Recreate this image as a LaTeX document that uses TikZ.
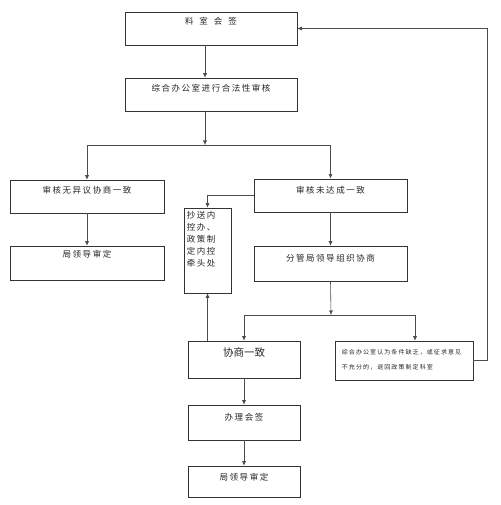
\documentclass[tikz,border=0pt]{standalone}
\usepackage{fontspec}
\setmainfont{Noto Sans CJK SC}[LetterSpace=18]
\newfontfamily\plainfont{Noto Sans CJK SC}
\usetikzlibrary{arrows.meta}
\begin{document}
\begin{tikzpicture}[x=1pt,y=-1pt,
  box/.style={draw=black!80, line width=0.6pt, rectangle, inner sep=0pt},
  ln/.style={draw=black!70, line width=0.6pt},
  arr/.style={ln, -{Latex[length=4.5pt,width=4pt]}},
  lbl/.style={font=\fontsize{8.5}{11}\selectfont, inner sep=0pt, text=black!85},
  sml/.style={font=\fontsize{6}{15}\selectfont, inner sep=0pt, text=black!85, align=left},
  big/.style={font=\plainfont\fontsize{10.5}{12}\selectfont, inner sep=0pt, text=black!85}]
\useasboundingbox (0,0) rectangle (500,505);
\fill[white] (0,0) rectangle (500,505);

% boxes
\node[box, minimum width=172pt, minimum height=33pt] (b1) at (211,28.5) {};
\node[box, minimum width=172pt, minimum height=33pt] (b2) at (211,94.5) {};
\node[box, minimum width=154pt, minimum height=33pt] (b3) at (87,196.5) {};
\node[box, line width=0.9pt, minimum width=153pt, minimum height=33pt] (b4) at (330.5,195.5) {};
\node[box, minimum width=47pt, minimum height=85pt] (b5) at (207.5,250.5) {};
\node[box, minimum width=154pt, minimum height=34pt] (b6) at (87,263) {};
\node[box, minimum width=153pt, minimum height=35pt] (b7) at (330.5,263.5) {};
\node[box, minimum width=112pt, minimum height=37pt] (b8) at (244,359.5) {};
\node[box, minimum width=138pt, minimum height=39pt] (b9) at (404,360.5) {};
\node[box, minimum width=112pt, minimum height=35pt] (b10) at (244,422.5) {};
\node[box, minimum width=112pt, minimum height=31pt] (b11) at (244,481.5) {};

% labels
\node[lbl] (t1) at ([yshift=-10pt]b1.north) {料\hspace{6pt}室\hspace{6pt}会\hspace{6pt}签};
\node[lbl] (t2) at ([yshift=-11pt]b2.north) {综合办公室进行合法性审核};
\node[lbl] (t3) at ([yshift=-11pt]b3.north) {审核无异议协商一致};
\node[lbl] (t4) at ([yshift=-12pt]b4.north) {审核未达成一致};
\node[lbl, font=\fontsize{8.5}{12}\selectfont, align=left, anchor=north west] (t5) at ([xshift=3pt,yshift=-3pt]b5.north west) {抄送内\\控办、\\政策制\\定内控\\牵头处};
\node[lbl] (t6) at ([yshift=-9pt]b6.north) {局领导审定};
\node[lbl] (t7) at ([yshift=-13pt]b7.north) {分管局领导组织协商};
\node[big] (t8) at ([yshift=-12pt]b8.north) {协商一致};
\node[sml, anchor=north west] (t9) at ([xshift=7pt,yshift=-8pt]b9.north west) {综合办公室认为条件缺乏，或征求意见\\不充分的，退回政策制定科室};
\node[lbl] (t10) at ([yshift=-13pt]b10.north) {办理会签};
\node[lbl] (t11) at ([yshift=-12pt]b11.north) {局领导审定};

% connectors
\coordinate (j1) at (205,145);
\coordinate (j2) at (331,315);
\coordinate (j3) at (415,315);
\coordinate (rt) at (487,28.5);
\draw[arr] ([xshift=-6pt]b1.south) -- ([xshift=-6pt]b2.north);
\draw[arr] (b2.south -| j1) -- (j1);
\draw[arr] (j1) -| (b3.north);
\draw[arr] (j1) -| (b4.north);
\draw[arr] (b4.west) -| (b5.north);
\draw[arr] (b3.south) -- (b6.north);
\draw[arr] (b4.south) -- (b7.north);
\draw[arr] (b7.south) -- (j2);
\draw[arr] (j2) -| (b8.north);
\draw[arr] (j2) -- (j3) -- (j3 |- b9.north);
\draw[arr] (b5.south |- b8.north) -- (b5.south);
\draw[arr] (b9.east) -| (rt) -- (b1.east);
\draw[arr] (b8.south) -- (b10.north);
\draw[arr] (b10.south) -- (b11.north);
\end{tikzpicture}
\end{document}
